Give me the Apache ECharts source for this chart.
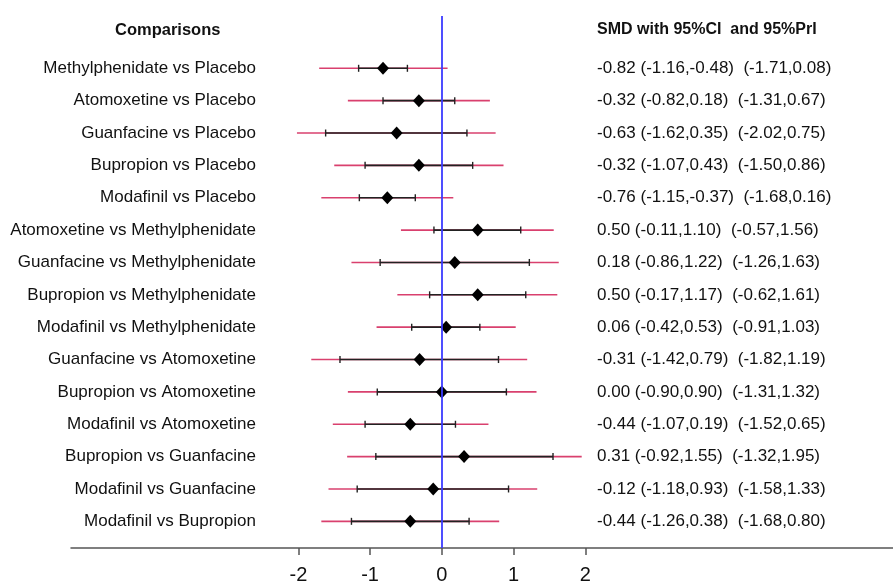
<!DOCTYPE html>
<html>
<head>
<meta charset="utf-8">
<script src="https://cdn.jsdelivr.net/npm/echarts@6/dist/echarts.min.js"></script>
<style>
  html, body { margin: 0; padding: 0; background: #fff; }
  #chart { width: 893px; height: 581px; }
</style>
</head>
<body>
<div id="chart"></div>
<script>
const comparisons = [
  "Methylphenidate vs Placebo",
  "Atomoxetine vs Placebo",
  "Guanfacine vs Placebo",
  "Bupropion vs Placebo",
  "Modafinil vs Placebo",
  "Atomoxetine vs Methylphenidate",
  "Guanfacine vs Methylphenidate",
  "Bupropion vs Methylphenidate",
  "Modafinil vs Methylphenidate",
  "Guanfacine vs Atomoxetine",
  "Bupropion vs Atomoxetine",
  "Modafinil vs Atomoxetine",
  "Bupropion vs Guanfacine",
  "Modafinil vs Guanfacine",
  "Modafinil vs Bupropion"
]
const smd   = [-0.82, -0.32, -0.63, -0.32, -0.76, 0.50, 0.18, 0.50, 0.06, -0.31, 0.00, -0.44, 0.31, -0.12, -0.44]
const ciLow = [-1.16, -0.82, -1.62, -1.07, -1.15, -0.11, -0.86, -0.17, -0.42, -1.42, -0.90, -1.07, -0.92, -1.18, -1.26]
const ciUp  = [-0.48, 0.18, 0.35, 0.43, -0.37, 1.10, 1.22, 1.17, 0.53, 0.79, 0.90, 0.19, 1.55, 0.93, 0.38]
const prLow = [-1.71, -1.31, -2.02, -1.50, -1.68, -0.57, -1.26, -0.62, -0.91, -1.82, -1.31, -1.52, -1.32, -1.58, -1.68]
const prUp  = [0.08, 0.67, 0.75, 0.86, 0.16, 1.56, 1.63, 1.61, 1.03, 1.19, 1.32, 0.65, 1.95, 1.33, 0.80]
const xTicks = [-2, -1, 0, 1, 2]

const fmt = v => v.toFixed(2)
const summary = smd.map((v, i) =>
  fmt(v) + " (" + fmt(ciLow[i]) + "," + fmt(ciUp[i]) + ")  (" + fmt(prLow[i]) + "," + fmt(prUp[i]) + ")")
const rows = comparisons.map((_, i) => i)

const font = "'Liberation Sans', Arial, sans-serif"
const chart = echarts.init(document.getElementById("chart"), null, { renderer: "canvas" })

chart.setOption({
  animation: false,
  backgroundColor: "#fff",
  textStyle: { fontFamily: font },
  graphic: [
    { type: "text", left: 115, top: 22,
      style: { text: "Comparisons", font: "bold 16.5px " + font, fill: "#111" } },
    { type: "text", left: 597, top: 22,
      style: { text: "SMD with 95%CI  and 95%PrI", font: "bold 16px " + font, fill: "#111" } }
  ],
  grid: { left: 71, right: 0, top: 16, bottom: 33, containLabel: false, outerBoundsMode: "none" },
  xAxis: {
    type: "value",
    min: -5.17,
    max: 6.29,
    splitLine: { show: false },
    axisLine: { show: true, onZero: false, lineStyle: { color: "#555", width: 1.5 } },
    axisTick: { show: true, customValues: xTicks, length: 7, lineStyle: { color: "#555", width: 1.5 } },
    axisLabel: { customValues: xTicks, margin: 17, fontSize: 20, color: "#111", fontFamily: font }
  },
  yAxis: [
    {
      type: "value",
      inverse: true,
      min: -1.616,
      max: 14.824,
      position: "left",
      offset: -185,
      splitLine: { show: false },
      axisLine: { show: false },
      axisTick: { show: false },
      axisLabel: {
        customValues: rows,
        margin: 0,
        fontSize: 17,
        color: "#111",
        fontFamily: font,
        formatter: v => comparisons[Math.round(v)] || ""
      }
    },
    {
      type: "value",
      inverse: true,
      min: -1.616,
      max: 14.824,
      position: "right",
      offset: -296,
      splitLine: { show: false },
      axisLine: { show: false },
      axisTick: { show: false },
      axisLabel: {
        customValues: rows,
        margin: 0,
        fontSize: 17,
        color: "#111",
        fontFamily: font,
        align: "left",
        formatter: v => summary[Math.round(v)] || ""
      }
    }
  ],
  series: [
    {
      type: "custom",
      xAxisIndex: 0,
      yAxisIndex: 0,
      data: rows.map(i => [i, smd[i], ciLow[i], ciUp[i], prLow[i], prUp[i]]),
      encode: { x: [1, 2, 3, 4, 5], y: 0 },
      renderItem: (params, api) => {
        const row = api.value(0)
        const est = api.coord([api.value(1), row])
        const cl = api.coord([api.value(2), row])
        const cu = api.coord([api.value(3), row])
        const pl = api.coord([api.value(4), row])
        const pu = api.coord([api.value(5), row])
        const y = est[1]
        return {
          type: "group",
          children: [
            { type: "line", shape: { x1: pl[0], y1: y, x2: pu[0], y2: y },
              style: { stroke: "#d9406e", lineWidth: 1.6 } },
            { type: "line", shape: { x1: cl[0], y1: y, x2: cu[0], y2: y },
              style: { stroke: "#222", lineWidth: 1.6 } },
            { type: "line", shape: { x1: cl[0], y1: y - 3.5, x2: cl[0], y2: y + 3.5 },
              style: { stroke: "#222", lineWidth: 1.4 } },
            { type: "line", shape: { x1: cu[0], y1: y - 3.5, x2: cu[0], y2: y + 3.5 },
              style: { stroke: "#222", lineWidth: 1.4 } },
            { type: "polygon",
              shape: { points: [[est[0], y - 6.5], [est[0] + 6, y], [est[0], y + 6.5], [est[0] - 6, y]] },
              style: { fill: "#000" } }
          ]
        }
      },
      markLine: {
        silent: true,
        symbol: "none",
        label: { show: false },
        lineStyle: { color: "#3b3bff", width: 1.8, type: "solid" },
        data: [{ xAxis: 0 }]
      },
      z: 3
    }
  ]
})
</script>
</body>
</html>
